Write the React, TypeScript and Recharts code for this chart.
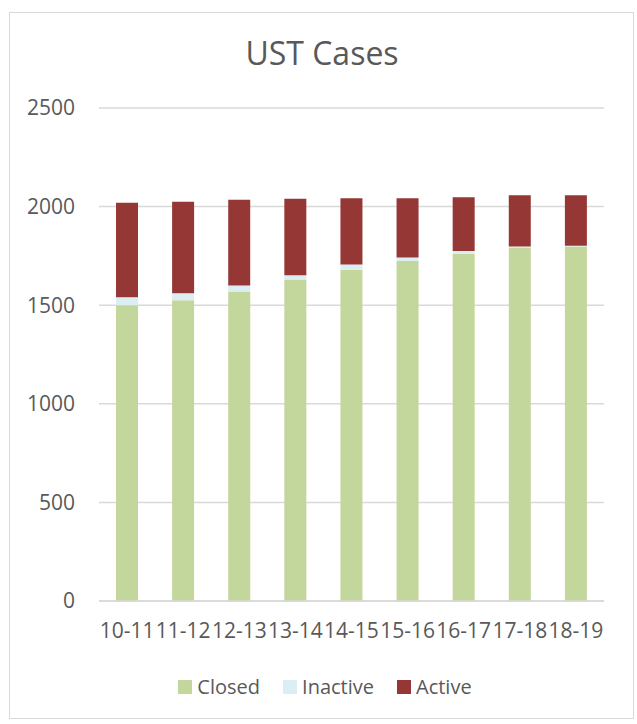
import { Bar, BarChart, CartesianGrid, Legend, XAxis, YAxis } from 'recharts'

const YEARS = ['10-11', '11-12', '12-13', '13-14', '14-15', '15-16', '16-17', '17-18', '18-19']
const CLOSED = [1500, 1525, 1570, 1630, 1680, 1724, 1761, 1793, 1798]
const INACTIVE = [40, 35, 30, 22, 27, 18, 14, 5, 3]
const ACTIVE = [480, 465, 435, 388, 335, 300, 272, 259, 256]
const Y_TICKS = [0, 500, 1000, 1500, 2000, 2500]

const SERIES = [
  { key: 'closed', name: 'Closed', color: '#c3d69b' },
  { key: 'inactive', name: 'Inactive', color: '#dbeef4' },
  { key: 'active', name: 'Active', color: '#953735' },
]

const TEXT = '#595959'
const FONT = '"Open Sans", sans-serif'

const rows = YEARS.map((year, i) => ({ year, closed: CLOSED[i], inactive: INACTIVE[i], active: ACTIVE[i] }))

function LegendRow() {
  return (
    <div style={{ display: 'flex', justifyContent: 'center', gap: 23, paddingLeft: 46, fontSize: 20, color: TEXT, fontFamily: FONT }}>
      {SERIES.map((s) => (
        <div key={s.key} style={{ display: 'flex', alignItems: 'center', gap: 5 }}>
          <span style={{ width: 14, height: 14, background: s.color, display: 'inline-block' }} />
          <span>{s.name}</span>
        </div>
      ))}
    </div>
  )
}

export default function App() {
  return (
    <div style={{ position: 'absolute', left: 0, top: 0, width: 637, height: 724, background: '#fff', fontFamily: FONT }}>
      <div style={{ position: 'absolute', left: 9, top: 12, width: 623, height: 705, border: '1px solid #d9d9d9' }} />
      <div style={{ position: 'absolute', left: 0, top: 31, width: 644, textAlign: 'center', fontSize: 32, color: TEXT }}>UST Cases</div>
      <div style={{ position: 'absolute', left: 0, top: 0 }}>
        <BarChart width={637} height={724} data={rows} margin={{ top: 108, right: 33, left: 0, bottom: 56 }}>
          <CartesianGrid vertical={false} stroke="#d9d9d9" strokeWidth={1.5} />
          <XAxis
            dataKey="year"
            height={40}
            axisLine={{ stroke: '#d9d9d9', strokeWidth: 1.5 }}
            tickLine={false}
            tick={{ fill: TEXT, fontSize: 21, fontFamily: FONT }}
            tickMargin={16}
            interval={0}
          />
          <YAxis
            width={99}
            domain={[0, 2500]}
            ticks={Y_TICKS}
            axisLine={false}
            tickLine={false}
            tickSize={0}
            tickMargin={24}
            tick={{ fill: TEXT, fontSize: 21, fontFamily: FONT }}
          />
          <Legend verticalAlign="bottom" content={<LegendRow />} wrapperStyle={{ bottom: 24 }} />
          {SERIES.map((s) => (
            <Bar key={s.key} dataKey={s.key} name={s.name} stackId="a" fill={s.color} barSize={22} isAnimationActive={false} />
          ))}
        </BarChart>
      </div>
    </div>
  )
}
